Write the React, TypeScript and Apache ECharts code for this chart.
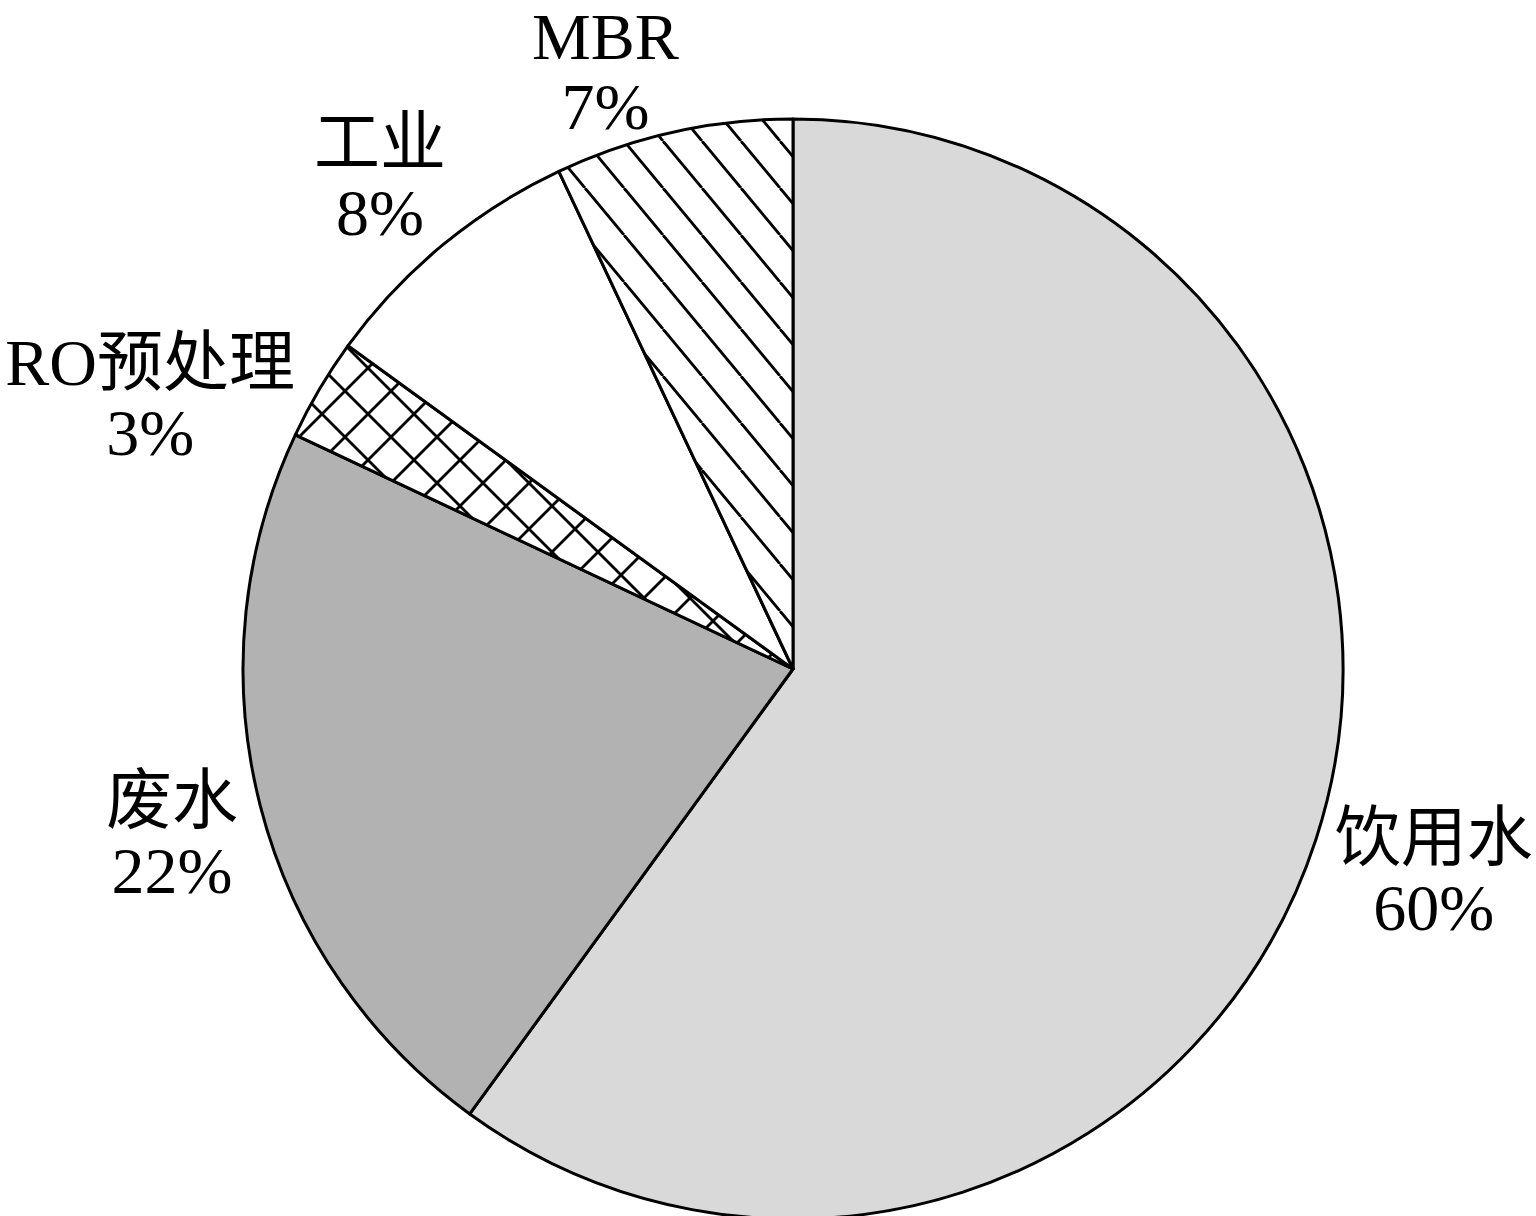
import React, { useEffect, useRef } from 'react';
import * as echarts from 'echarts';

// ---- data ----
const categories = ['饮用水', '废水', 'RO预处理', '工业', 'MBR'];
const shares = [60, 22, 3, 8, 7];

// ---- layout ----
const CX = 793;
const CY = 669;
const R = 550;
const LABEL_DIST = 640;
const labelNudge = [
  [32, 6],
  [-1, 7],
  [-92, 54],
  [-5, 2],
  [-48, 27],
];

function svgTile(w: number, h: number, body: string) {
  const svg = `<svg xmlns="http://www.w3.org/2000/svg" width="${w}" height="${h}" viewBox="0 0 ${w} ${h}"><rect width="${w}" height="${h}" fill="#ffffff"/><g stroke="#000000" stroke-width="2.8" fill="none">${body}</g></svg>`;
  return 'data:image/svg+xml;charset=utf-8,' + encodeURIComponent(svg);
}

function hatchPattern() {
  const w = 39;
  const h = 47;
  const body =
    `<line x1="0" y1="0" x2="${w}" y2="${h}"/>` +
    `<line x1="${-w}" y1="0" x2="0" y2="${h}"/>` +
    `<line x1="${w}" y1="0" x2="${2 * w}" y2="${h}"/>`;
  return { image: svgTile(w, h, body), repeat: 'repeat', imageWidth: w, imageHeight: h };
}

function crossPattern() {
  const d = 46;
  const body =
    `<line x1="0" y1="0" x2="${d}" y2="${d}"/>` +
    `<line x1="${-d}" y1="0" x2="0" y2="${d}"/>` +
    `<line x1="${d}" y1="0" x2="${2 * d}" y2="${d}"/>` +
    `<line x1="${d}" y1="0" x2="0" y2="${d}"/>` +
    `<line x1="0" y1="0" x2="${-d}" y2="${d}"/>` +
    `<line x1="${2 * d}" y1="0" x2="${d}" y2="${d}"/>` +
    `<line x1="${d}" y1="${d}" x2="${2 * d}" y2="0"/>`;
  return { image: svgTile(d, d, body), repeat: 'repeat', imageWidth: d, imageHeight: d };
}

export default function App() {
  const ref = useRef<HTMLDivElement>(null);

  useEffect(() => {
    document.body.style.margin = '0';
    if (!ref.current) return;
    const chart = echarts.init(ref.current, undefined, { renderer: 'svg' });

    const fills: any[] = ['#d9d9d9', '#b2b2b2', crossPattern(), '#ffffff', hatchPattern()];

    const total = shares.reduce((a, b) => a + b, 0);
    const midAngles: number[] = [];
    let acc = 0;
    shares.forEach((v) => {
      midAngles.push(((acc + v / 2) / total) * Math.PI * 2);
      acc += v;
    });

    chart.setOption({
      animation: false,
      backgroundColor: '#ffffff',
      series: [
        {
          type: 'pie',
          silent: true,
          center: [CX, CY],
          radius: [0, R],
          startAngle: 90,
          clockwise: true,
          avoidLabelOverlap: false,
          itemStyle: { borderColor: '#000000', borderWidth: 3 },
          label: {
            show: true,
            position: 'outside',
            formatter: '{b}\n{c}%',
            color: '#000000',
            fontSize: 66,
            lineHeight: 70,
            fontFamily: "'Liberation Serif', 'Noto Sans CJK SC', serif",
          },
          labelLine: { show: false },
          labelLayout: (params: any) => {
            const i = params.dataIndex;
            const a = midAngles[i];
            return {
              x: CX + LABEL_DIST * Math.sin(a) + labelNudge[i][0],
              y: CY - LABEL_DIST * Math.cos(a) + labelNudge[i][1],
              align: 'center',
              verticalAlign: 'middle',
            };
          },
          data: categories.map((name, i) => ({
            name,
            value: shares[i],
            itemStyle: { color: fills[i] },
          })),
        },
      ],
    });

    return () => chart.dispose();
  }, []);

  return <div ref={ref} style={{ width: 1536, height: 1216 }} />;
}
